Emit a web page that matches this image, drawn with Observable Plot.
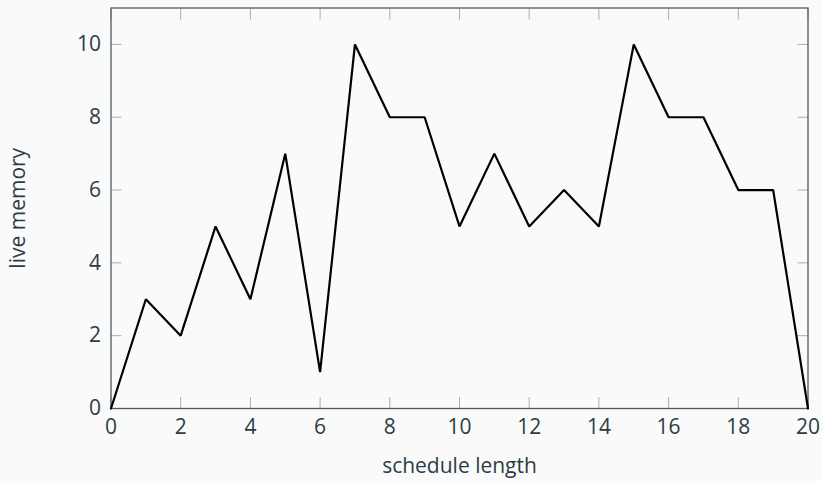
<!DOCTYPE html>
<html>
<head>
<meta charset="utf-8">
<script src="https://cdn.jsdelivr.net/npm/d3@7"></script>
<script src="https://cdn.jsdelivr.net/npm/@observablehq/plot@0.6"></script>
<style>
  html, body { margin: 0; padding: 0; background: #fafafa; }
  #chart svg { display: block; }
</style>
</head>
<body>
<div id="chart"></div>
<script>
const steps = [0,1,2,3,4,5,6,7,8,9,10,11,12,13,14,15,16,17,18,19,20];
const memory = [0,3,2,5,3,7,1,10,8,8,5,7,5,6,5,10,8,8,6,6,0];
const xTicks = [0,2,4,6,8,10,12,14,16,18,20];
const yTicks = [0,2,4,6,8,10];

const data = steps.map((s, i) => ({step: s, mem: memory[i]}));

const textColor = "#2c3d45";
const tickColor = "#a9aeb0";
const frameColor = "#4e5c62";

const chart = Plot.plot({
  width: 823,
  height: 481,
  marginLeft: 110.5,
  marginRight: 15.5,
  marginTop: 7.5,
  marginBottom: 73,
  style: {background: "#fafafa", fontFamily: "'Open Sans', sans-serif", fontSize: "22px", color: textColor},
  x: {domain: [0, 20]},
  y: {domain: [0, 11]},
  marks: [
    // inner ticks
    Plot.axisX({ticks: xTicks, anchor: "bottom", tickSize: -11, tickFormat: () => "", stroke: tickColor, strokeOpacity: 1, label: null}),
    Plot.axisX({ticks: xTicks, anchor: "top", tickSize: -11, tickFormat: () => "", stroke: tickColor, strokeOpacity: 1, label: null}),
    Plot.axisY({ticks: yTicks, anchor: "left", tickSize: -11, tickFormat: () => "", stroke: tickColor, strokeOpacity: 1, label: null}),
    Plot.axisY({ticks: yTicks, anchor: "right", tickSize: -11, tickFormat: () => "", stroke: tickColor, strokeOpacity: 1, label: null}),
    // labels
    Plot.axisX({ticks: xTicks, anchor: "bottom", tickSize: 0, tickPadding: 11, fill: textColor, fontSize: 21,
      label: "schedule length", labelAnchor: "center", labelArrow: "none", labelOffset: 64}),
    Plot.axisY({ticks: yTicks, anchor: "left", tickSize: 0, tickPadding: 10, fill: textColor, fontSize: 21,
      label: "live memory", labelAnchor: "center", labelArrow: "none", labelOffset: 101}),
    Plot.frame({stroke: frameColor, strokeWidth: 1.3}),
    Plot.line(data, {x: "step", y: "mem", stroke: "black", strokeWidth: 2.2, strokeLinejoin: "miter"})
  ]
});
document.getElementById("chart").appendChild(chart);
</script>
</body>
</html>
